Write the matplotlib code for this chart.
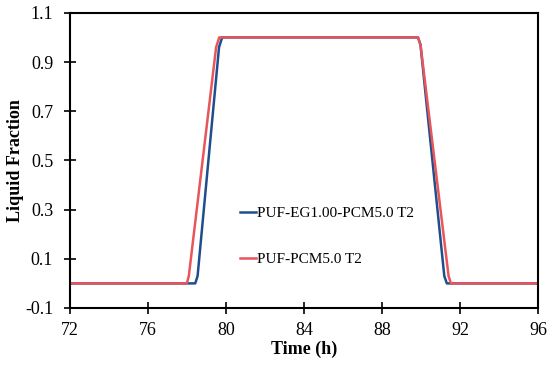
import matplotlib
matplotlib.use("Agg")
import matplotlib.pyplot as plt

plt.rcParams['font.family'] = ['Liberation Serif', 'DejaVu Serif']

# PUF-EG1.00-PCM5.0 T2
t_eg = [72, 78.43, 78.55, 79.65, 79.81, 89.85, 89.98, 91.2, 91.33, 96]
lf_eg = [0, 0, 0.03, 0.96, 1.0, 1.0, 0.97, 0.03, 0, 0]
# PUF-PCM5.0 T2
t_pcm = [72, 78.0, 78.1, 79.5, 79.66, 89.85, 89.98, 91.42, 91.54, 96]
lf_pcm = [0, 0, 0.03, 0.96, 1.0, 1.0, 0.97, 0.03, 0, 0]

xticks = [72, 76, 80, 84, 88, 92, 96]
yticks = [-0.1, 0.1, 0.3, 0.5, 0.7, 0.9, 1.1]

fig = plt.figure(figsize=(5.5, 3.66), dpi=100)
ax = fig.add_axes([0.127, 0.1585, 0.851, 0.8065])

ax.plot(t_eg, lf_eg, color='#1f4e8c', lw=1.8, label='PUF-EG1.00-PCM5.0 T2')
ax.plot(t_pcm, lf_pcm, color='#e8555a', lw=1.8, label='PUF-PCM5.0 T2')

ax.set_xlim(72, 96)
ax.set_ylim(-0.1, 1.1)
ax.set_xticks(xticks)
ax.set_yticks(yticks)
ax.set_yticklabels(['%.1f' % v for v in yticks])
ax.tick_params(direction='inout', length=8, width=1.2, labelsize=13, color='black')
ax.tick_params(axis='x', pad=6)
ax.tick_params(axis='y', pad=8)
for s in ax.spines.values():
    s.set_linewidth(1.5)

ax.set_xlabel('Time (h)', fontsize=13, fontweight='bold', labelpad=1)
ax.set_ylabel('Liquid Fraction', fontsize=13, fontweight='bold', labelpad=1)

ax.legend(loc='upper left', bbox_to_anchor=(0.335, 0.39), frameon=False,
          fontsize=11, handlelength=1.0, handletextpad=0.1, labelspacing=2.1)

fig.savefig('out.png', dpi=100)
